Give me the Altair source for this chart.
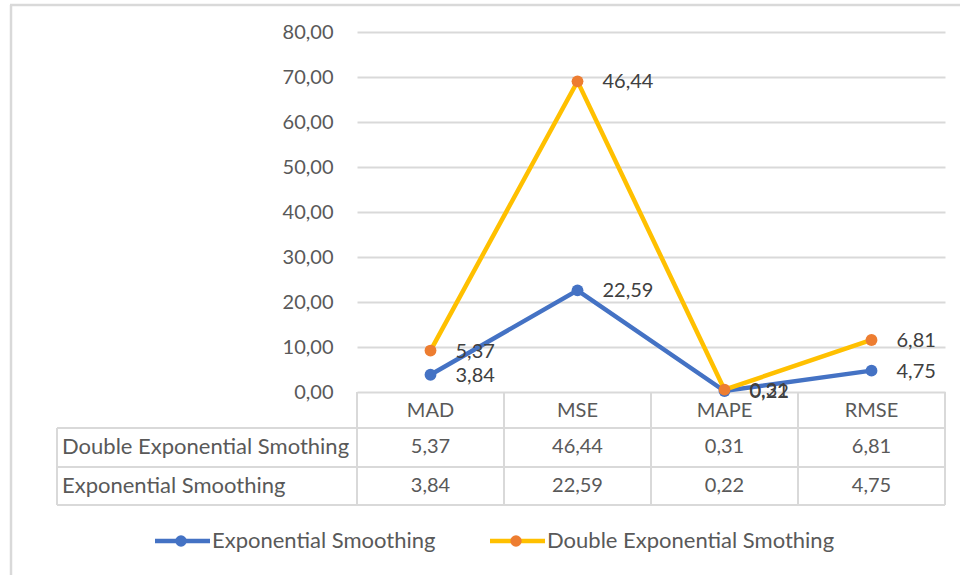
import altair as alt
import pandas as pd

# Error metrics of the two forecasting methods
metrics = ["MAD", "MSE", "MAPE", "RMSE"]
exp_smoothing = [3.84, 22.59, 0.22, 4.75]
double_exp_smoothing = [5.37, 46.44, 0.31, 6.81]
y_ticks = [0, 10, 20, 30, 40, 50, 60, 70, 80]

ES_NAME = "Exponential Smoothing"
DES_NAME = "Double Exponential Smothing"

BLUE = "#4472C4"
YELLOW = "#FFC000"
ORANGE = "#ED7D31"
GRID = "#D9D9D9"
TEXT = "#595959"
LABEL = "#404040"
FONT = "Lato"
FS = 20          # numbers
FS_NAME = 22     # series names in table and legend

W, H = 588, 360          # plot area
TABLE_LEFT = -300        # left edge of the data table (relative to plot)
ROW1_Y, ROW2_Y = 415, 454
LEGEND_Y = 509

df = pd.DataFrame({"metric": metrics, "es": exp_smoothing, "des": double_exp_smoothing})
one = pd.DataFrame({"k": [0]})

comma = "replace(format({v}, '.2f'), '.', ',')"

base = alt.Chart(df).transform_calculate(
    des_top="datum.es + datum.des",  # stacked line: second series sits on the first
    es_lbl=comma.format(v="datum.es"),
    des_lbl=comma.format(v="datum.des"),
)

xscale = alt.Scale(type="band", domain=metrics, paddingInner=0, paddingOuter=0)
xc = alt.X("metric:N", scale=xscale, axis=None, bandPosition=0.5)
yscale = alt.Scale(domain=[0, 80], nice=False)
yaxis = alt.Axis(
    values=y_ticks,
    labelExpr="replace(format(datum.value, '.2f'), '.', ',')",
    grid=True, gridColor=GRID, gridWidth=2,
    domain=False, ticks=False, labelPadding=24,
    labelFont=FONT, labelFontSize=FS, labelColor=TEXT, title=None,
)

es_line = base.mark_line(color=BLUE, strokeWidth=4.5).encode(
    x=xc, y=alt.Y("es:Q", scale=yscale, axis=yaxis)
)
es_pts = base.mark_point(filled=True, color=BLUE, size=140, opacity=1).encode(
    x=xc, y=alt.Y("es:Q", scale=yscale)
)
des_line = base.mark_line(color=YELLOW, strokeWidth=4.5).encode(
    x=xc, y=alt.Y("des_top:Q", scale=yscale)
)
des_pts = base.mark_point(filled=True, color=ORANGE, size=140, opacity=1).encode(
    x=xc, y=alt.Y("des_top:Q", scale=yscale)
)
es_lbl = base.mark_text(align="left", baseline="middle", dx=25, dy=1,
                        font=FONT, fontSize=FS, color=LABEL).encode(
    x=xc, y=alt.Y("es:Q", scale=yscale), text="es_lbl:N"
)
des_lbl = base.mark_text(align="left", baseline="middle", dx=25, dy=1,
                         font=FONT, fontSize=FS, color=LABEL).encode(
    x=xc, y=alt.Y("des_top:Q", scale=yscale), text="des_lbl:N"
)

# Data table under the plot
txt = dict(font=FONT, fontSize=FS, color=TEXT, baseline="middle")
name_txt = dict(font=FONT, fontSize=FS_NAME, color=TEXT, baseline="middle")
header = base.mark_text(align="center", **txt).encode(
    x=xc, y=alt.value(379), text="metric:N"
)
row1_vals = base.mark_text(align="center", **txt).encode(
    x=xc, y=alt.value(ROW1_Y), text="des_lbl:N"
)
row2_vals = base.mark_text(align="center", **txt).encode(
    x=xc, y=alt.value(ROW2_Y), text="es_lbl:N"
)
row1_name = alt.Chart(one).mark_text(align="left", **name_txt).encode(
    x=alt.value(TABLE_LEFT + 5), y=alt.value(ROW1_Y), text=alt.value(DES_NAME)
)
row2_name = alt.Chart(one).mark_text(align="left", **name_txt).encode(
    x=alt.value(TABLE_LEFT + 5), y=alt.value(ROW2_Y), text=alt.value(ES_NAME)
)

rule = dict(color=GRID, strokeWidth=2)
hlines = [
    alt.Chart(one).mark_rule(**rule).encode(
        x=alt.value(TABLE_LEFT), x2=alt.value(W), y=alt.value(yv)
    )
    for yv in (396, 435, 473)
]
vlines = base.mark_rule(**rule).encode(
    x=alt.X("metric:N", scale=xscale, axis=None, bandPosition=0),
    y=alt.value(H), y2=alt.value(473),
)
right_edge = alt.Chart(one).mark_rule(**rule).encode(
    x=alt.value(W), y=alt.value(H), y2=alt.value(473)
)
left_edge = alt.Chart(one).mark_rule(**rule).encode(
    x=alt.value(TABLE_LEFT), y=alt.value(396), y2=alt.value(473)
)

# Legend
def legend_item(x0, line_color, dot_color, label):
    ln = alt.Chart(one).mark_rule(color=line_color, strokeWidth=4.5).encode(
        x=alt.value(x0), x2=alt.value(x0 + 55), y=alt.value(LEGEND_Y)
    )
    dot = alt.Chart(one).mark_point(filled=True, color=dot_color, size=130, opacity=1).encode(
        x=alt.value(x0 + 26), y=alt.value(LEGEND_Y)
    )
    lab = alt.Chart(one).mark_text(align="left", **name_txt).encode(
        x=alt.value(x0 + 57), y=alt.value(LEGEND_Y), text=alt.value(label)
    )
    return [ln, dot, lab]

legend = legend_item(-202, BLUE, BLUE, ES_NAME) + legend_item(133, YELLOW, ORANGE, DES_NAME)

# Chart frame
frame_left = alt.Chart(one).mark_rule(color=GRID, strokeWidth=2.5).encode(
    x=alt.value(-346), y=alt.value(-27), y2=alt.value(543)
)
frame_top = alt.Chart(one).mark_rule(color=GRID, strokeWidth=2.5).encode(
    x=alt.value(-347), x2=alt.value(603), y=alt.value(-27)
)

chart = alt.layer(
    frame_left, frame_top,
    *hlines, vlines, right_edge, left_edge,
    es_line, des_line, es_pts, des_pts, es_lbl, des_lbl,
    header, row1_vals, row2_vals, row1_name, row2_name,
    *legend,
).properties(
    width=W, height=H,
    autosize=alt.AutoSizeParams(type="none"),
    padding={"left": 357, "top": 32, "right": 15, "bottom": 183},
).configure(
    background="white",
    view=alt.ViewConfig(stroke=None),
)

chart.save("out.html", embed_options={"renderer": "svg", "actions": False})
